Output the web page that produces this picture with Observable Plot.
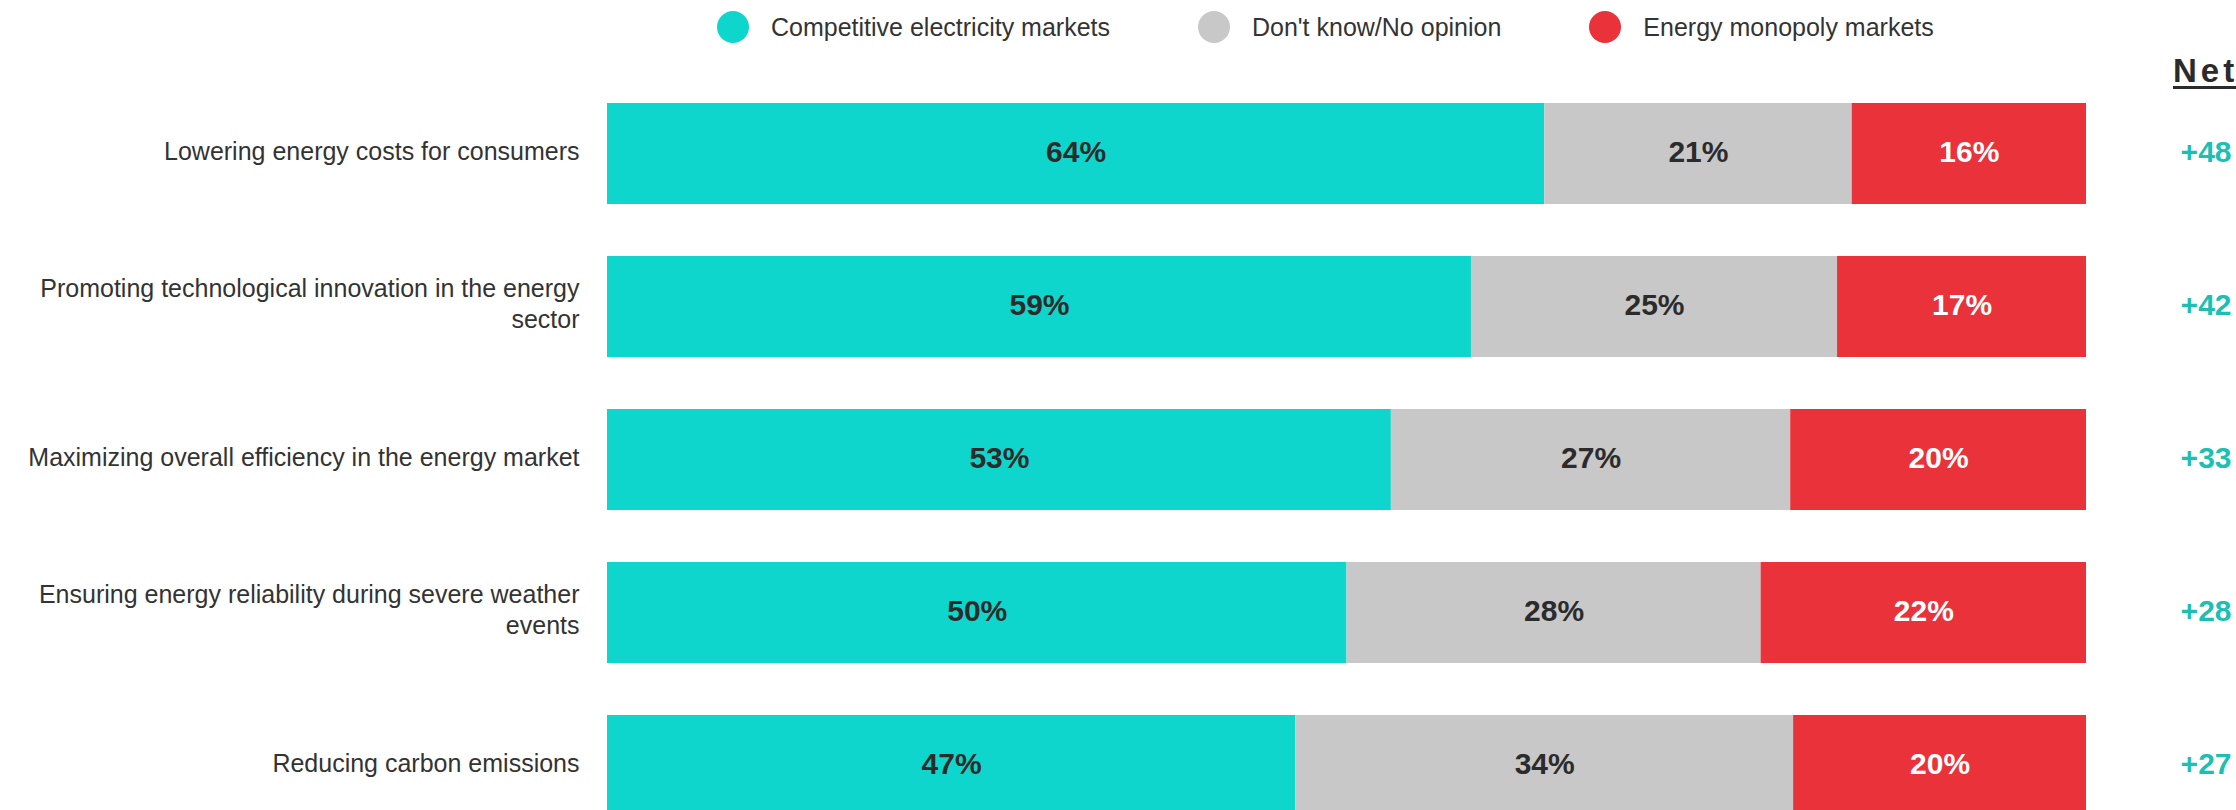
<!DOCTYPE html>
<html>
<head>
<meta charset="utf-8">
<script src="https://cdn.jsdelivr.net/npm/d3@7"></script>
<script src="https://cdn.jsdelivr.net/npm/@observablehq/plot@0.6"></script>
<style>
  html, body { margin: 0; padding: 0; background: #fff; overflow: hidden; }
  body { width: 2236px; height: 810px; font-family: "Liberation Sans", Arial, sans-serif; }
  #header { position: relative; height: 90px; width: 2236px; }
  #legend { position: absolute; left: 717px; top: 11px; display: flex; align-items: center; gap: 88px; }
  .item { display: flex; align-items: center; }
  .dot { width: 32px; height: 32px; border-radius: 50%; margin-right: 22px; }
  .lab { font-size: 25px; color: #333; line-height: 32px; white-space: nowrap; }
  #net { position: absolute; left: 2173px; top: 54px; font-size: 33px; line-height: 33px; font-weight: bold;
         color: #2b2b2b; letter-spacing: 4px; text-decoration: underline; text-decoration-thickness: 3px;
         text-underline-offset: 4px; white-space: nowrap; }
  #chart svg { display: block; }
</style>
</head>
<body>
<div id="header"><div id="legend"></div><div id="net"></div></div>
<div id="chart"></div>
<script>
const items = [
  "Lowering energy costs for consumers",
  "Promoting technological innovation in the energy sector",
  "Maximizing overall efficiency in the energy market",
  "Ensuring energy reliability during severe weather events",
  "Reducing carbon emissions"
];
const competitive = [64, 59, 53, 50, 47];
const dontKnow = [21, 25, 27, 28, 34];
const monopoly = [16, 17, 20, 22, 20];
const net = [48, 42, 33, 28, 27];
const seriesNames = ["Competitive electricity markets", "Don't know/No opinion", "Energy monopoly markets"];
const seriesColors = ["#0FD6CD", "#C8C8C8", "#E93239"];
const netTitle = "Net";

// legend
const legend = d3.select("#legend");
seriesNames.forEach((s, i) => {
  const it = legend.append("div").attr("class", "item");
  it.append("div").attr("class", "dot").style("background", seriesColors[i]);
  it.append("div").attr("class", "lab").text(s);
});
d3.select("#net").text(netTitle);

// table
const seriesValues = [competitive, dontKnow, monopoly];
const rows = [];
items.forEach((item, i) => {
  const total = d3.sum(seriesValues, v => v[i]);
  let acc = 0;
  seriesNames.forEach((s, j) => {
    const v = seriesValues[j][i];
    const start = acc / total;
    acc += v;
    const end = acc / total;
    rows.push({item, series: s, value: v, start, end, mid: (start + end) / 2});
  });
});
const itemRows = items.map((item, i) => ({item, net: net[i]}));

const chart = Plot.plot({
  width: 2236,
  height: 738,
  marginLeft: 607,
  marginRight: 150,
  marginTop: 0,
  marginBottom: 0,
  x: {domain: [0, 1], axis: null},
  y: {domain: items, axis: null, paddingInner: 0.343, paddingOuter: 0.0715},
  color: {domain: seriesNames, range: seriesColors},
  style: {fontFamily: "'Liberation Sans', Arial, sans-serif", background: "white", overflow: "visible"},
  marks: [
    Plot.barX(rows, {x1: "start", x2: "end", y: "item", fill: "series"}),
    Plot.text(rows, {filter: d => d.series !== seriesNames[2], x: "mid", y: "item",
      text: d => d.value + "%", fill: "#2b2b2b", fontSize: 30, fontWeight: "bold", dy: -2}),
    Plot.text(rows, {filter: d => d.series === seriesNames[2], x: "mid", y: "item",
      text: d => d.value + "%", fill: "white", fontSize: 30, fontWeight: "bold", dy: -2}),
    Plot.text(itemRows, {y: "item", text: "item", frameAnchor: "left", textAnchor: "end", dx: -28, dy: -4,
      fontSize: 25, fill: "#333", lineWidth: 24.5, lineHeight: 1.24}),
    Plot.text(itemRows, {y: "item", text: d => "+" + d.net, frameAnchor: "right", dx: 145, dy: -2,
      fontSize: 30, fontWeight: "bold", fill: "#1DBFB2"})
  ]
});
document.getElementById("chart").appendChild(chart);
</script>
</body>
</html>
